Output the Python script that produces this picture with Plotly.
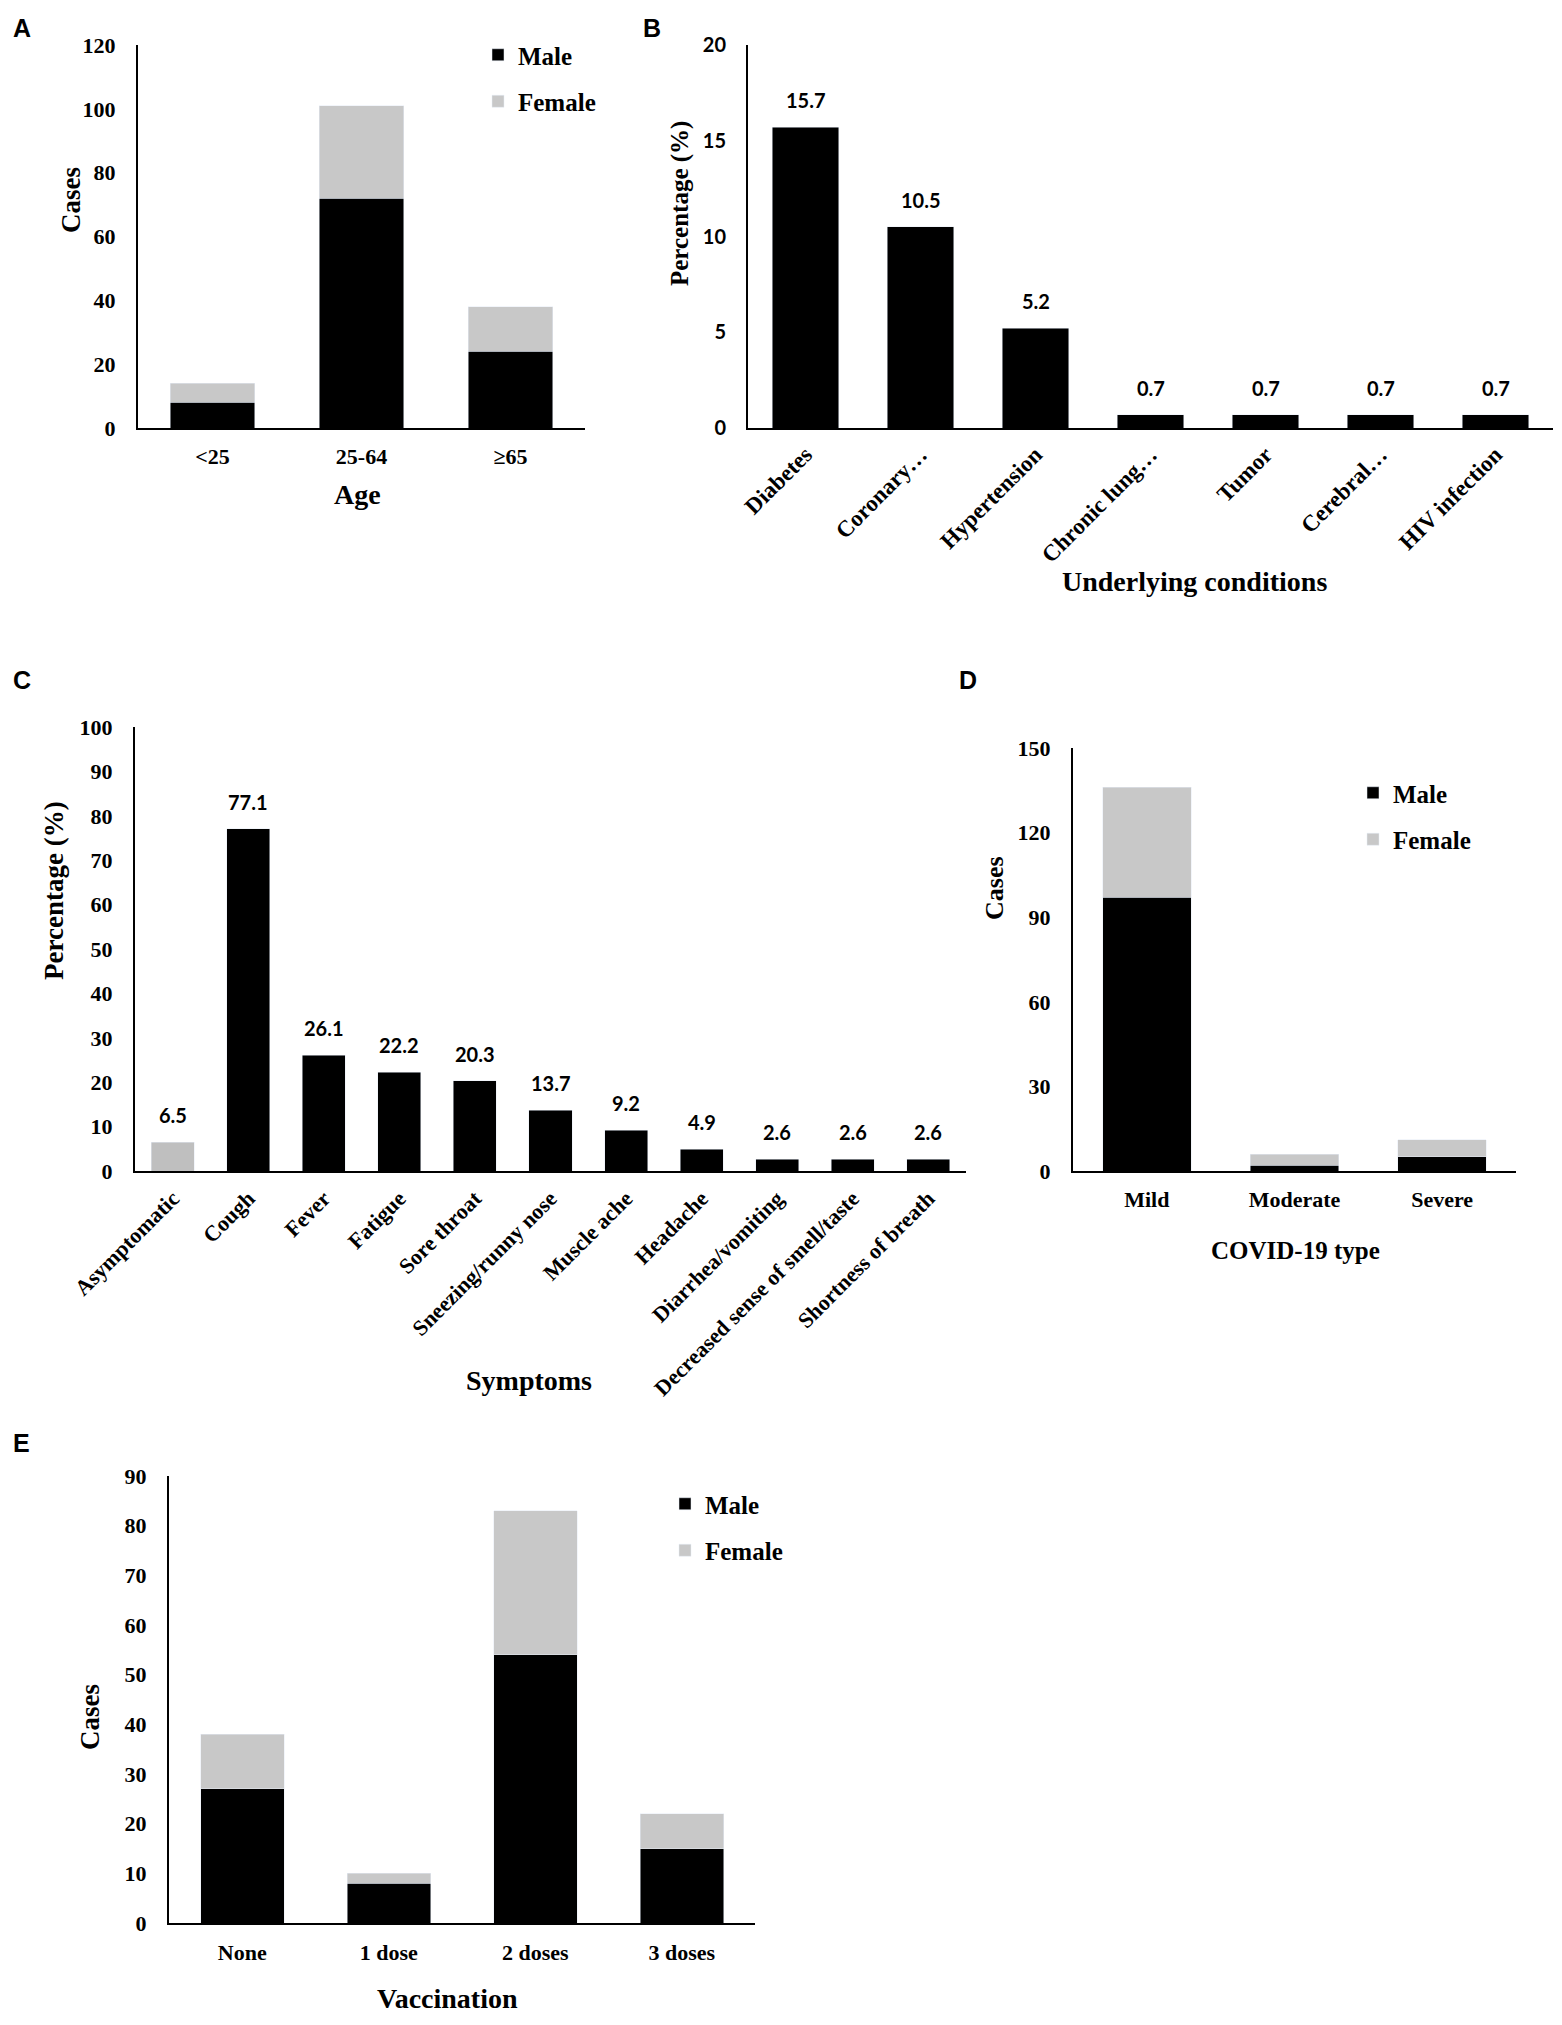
import plotly.graph_objects as go

# ---------------- data ----------------
age_groups = ["<25", "25-64", "≥65"]
age_male = [8, 72, 24]
age_female = [6, 29, 14]

conditions = ["Diabetes", "Coronary…", "Hypertension", "Chronic lung…", "Tumor", "Cerebral…", "HIV infection"]
condition_pct = [15.7, 10.5, 5.2, 0.7, 0.7, 0.7, 0.7]

symptoms = ["Asymptomatic", "Cough", "Fever", "Fatigue", "Sore throat", "Sneezing/runny nose",
            "Muscle ache", "Headache", "Diarrhea/vomiting", "Decreased sense of smell/taste",
            "Shortness of breath"]
symptom_pct = [6.5, 77.1, 26.1, 22.2, 20.3, 13.7, 9.2, 4.9, 2.6, 2.6, 2.6]

covid_types = ["Mild", "Moderate", "Severe"]
type_male = [97, 2, 5]
type_female = [39, 4, 6]

vaccination = ["None", "1 dose", "2 doses", "3 doses"]
vacc_male = [27, 8, 54, 15]
vacc_female = [11, 2, 29, 7]

# ---------------- styling ----------------
PAGE_W, PAGE_H = 1562, 2025
OFF = 8                      # default body margin of the html page
FW, FH = PAGE_W - 2 * OFF, PAGE_H - 2 * OFF
BLACK = "#000000"
GRAY = "#c8c8c8"
ASYM_GRAY = "#bfbfbf"
SERIF = "Liberation Serif"
SANS = "Lato"
LETTER = "Liberation Sans"


def fx(px):
    return (px - OFF) / FW


def fy(py):
    return 1 - (py - OFF) / FH


def xd(a, b):
    return [fx(a), fx(b)]


def yd(top, bottom):
    return [fy(bottom), fy(top)]


fig = go.Figure()

# Panel A
fig.add_trace(go.Bar(x=age_groups, y=age_male, name="Male", marker_color=BLACK, width=0.57,
                     xaxis="x", yaxis="y", legend="legend", legendgroup="am"))
fig.add_trace(go.Bar(x=age_groups, y=age_female, name="Female", marker_color=GRAY, width=0.57,
                     xaxis="x", yaxis="y", legend="legend", legendgroup="af"))
# Panel B
fig.add_trace(go.Bar(x=conditions, y=condition_pct, marker_color=BLACK, width=0.58,
                     xaxis="x2", yaxis="y2", showlegend=False))
# Panel C
fig.add_trace(go.Bar(x=symptoms, y=symptom_pct,
                     marker_color=[ASYM_GRAY] + [BLACK] * (len(symptoms) - 1), width=0.57,
                     xaxis="x3", yaxis="y3", showlegend=False))
# Panel D
fig.add_trace(go.Bar(x=covid_types, y=type_male, name="Male", marker_color=BLACK, width=0.6,
                     xaxis="x4", yaxis="y4", legend="legend2", legendgroup="dm"))
fig.add_trace(go.Bar(x=covid_types, y=type_female, name="Female", marker_color=GRAY, width=0.6,
                     xaxis="x4", yaxis="y4", legend="legend2", legendgroup="df"))
# Panel E
fig.add_trace(go.Bar(x=vaccination, y=vacc_male, name="Male", marker_color=BLACK, width=0.57,
                     xaxis="x5", yaxis="y5", legend="legend3", legendgroup="em"))
fig.add_trace(go.Bar(x=vaccination, y=vacc_female, name="Female", marker_color=GRAY, width=0.57,
                     xaxis="x5", yaxis="y5", legend="legend3", legendgroup="ef"))

tickfont_serif = dict(family=SERIF, size=22, color=BLACK, weight="bold")
tickfont_sans = dict(family=SANS, size=20, color=BLACK, weight="bold")


def xaxis(domain, anchor, angle=0, size=22, standoff=8):
    return dict(domain=domain, anchor=anchor, showline=True, linecolor=BLACK, linewidth=2,
                showgrid=False, zeroline=False, ticks="", tickangle=angle, automargin=False,
                tickfont=dict(family=SERIF, size=size, color=BLACK, weight="bold"),
                ticklabelstandoff=standoff, fixedrange=True)


def yaxis(domain, anchor, rng, dtick, font=tickfont_serif):
    return dict(domain=domain, anchor=anchor, range=rng, dtick=dtick, showline=True,
                linecolor=BLACK, linewidth=2, showgrid=False, zeroline=False, ticks="",
                automargin=False, tickfont=font, ticklabelstandoff=16, fixedrange=True)


layout = dict(
    width=FW, height=FH, margin=dict(l=0, r=0, t=0, b=0, autoexpand=False),
    paper_bgcolor="white", plot_bgcolor="white", barmode="stack",
    xaxis=xaxis(xd(138, 585), "y"),
    yaxis=yaxis(yd(45, 428), "x", [0, 120], 20),
    xaxis2=xaxis(xd(748, 1553), "y2", angle=-45, size=23, standoff=2),
    yaxis2=yaxis(yd(45, 428), "x2", [0, 20], 5, font=tickfont_sans),
    xaxis3=xaxis(xd(135, 966), "y3", angle=-45, size=22, standoff=4),
    yaxis3=yaxis(yd(727, 1171), "x3", [0, 100], 10),
    xaxis4=xaxis(xd(1073, 1516), "y4"),
    yaxis4=yaxis(yd(748, 1171), "x4", [0, 150], 30),
    xaxis5=xaxis(xd(169, 755), "y5", standoff=9),
    yaxis5=yaxis(yd(1476, 1923), "x5", [0, 90], 10),
)

legend_common = dict(traceorder="grouped", tracegroupgap=11, bgcolor="rgba(0,0,0,0)",
                     font=dict(family=SERIF, size=25, color=BLACK, weight="bold"),
                     xanchor="left", yanchor="top", itemwidth=30)
layout["legend"] = dict(legend_common, x=fx(478), y=fy(32))
layout["legend2"] = dict(legend_common, x=fx(1353), y=fy(770))
layout["legend3"] = dict(legend_common, x=fx(665), y=fy(1481))

fig.update_layout(**layout)

ann = []
# panel letters
for letter, px, py in [("A", 11, 28), ("B", 641, 28), ("C", 11, 680), ("D", 957, 680), ("E", 11, 1443)]:
    ann.append(dict(text=letter, x=fx(px), y=fy(py), xref="paper", yref="paper",
                    xanchor="left", yanchor="middle", showarrow=False,
                    font=dict(family=LETTER, size=25, color=BLACK, weight="bold")))

# axis titles
for text, px, py, size in [("Age", 357, 494, 28), ("Underlying conditions", 1194, 581, 28),
                           ("Symptoms", 529, 1380, 28), ("COVID-19 type", 1295, 1250, 25)]:
    ann.append(dict(text=text, x=fx(px), y=fy(py), xref="paper", yref="paper",
                    xanchor="center", yanchor="middle", showarrow=False,
                    font=dict(family=SERIF, size=size, color=BLACK, weight="bold")))
ann.append(dict(text="Vaccination", x=fx(447), y=0, xref="paper", yref="paper",
                xanchor="center", yanchor="bottom", yshift=1, showarrow=False,
                font=dict(family=SERIF, size=28, color=BLACK, weight="bold")))
for text, px, py, size in [("Cases", 71, 200, 27), ("Percentage (%)", 680, 204, 25),
                           ("Percentage (%)", 54, 891, 27), ("Cases", 994, 888, 26),
                           ("Cases", 90, 1717, 27)]:
    ann.append(dict(text=text, x=fx(px), y=fy(py), xref="paper", yref="paper",
                    xanchor="center", yanchor="middle", showarrow=False, textangle=-90,
                    font=dict(family=SERIF, size=size, color=BLACK, weight="bold")))

# data labels
label_font = dict(family=SANS, size=20, color=BLACK, weight="bold")
for c, v in zip(conditions, condition_pct):
    ann.append(dict(text=f"{v}", x=c, y=v, xref="x2", yref="y2", yanchor="bottom",
                    yshift=13, showarrow=False, font=label_font))
for s, v in zip(symptoms, symptom_pct):
    ann.append(dict(text=f"{v}", x=s, y=v, xref="x3", yref="y3", yanchor="bottom",
                    yshift=13, showarrow=False, font=label_font))

fig.update_layout(annotations=ann)
fig.write_html("out.html")
